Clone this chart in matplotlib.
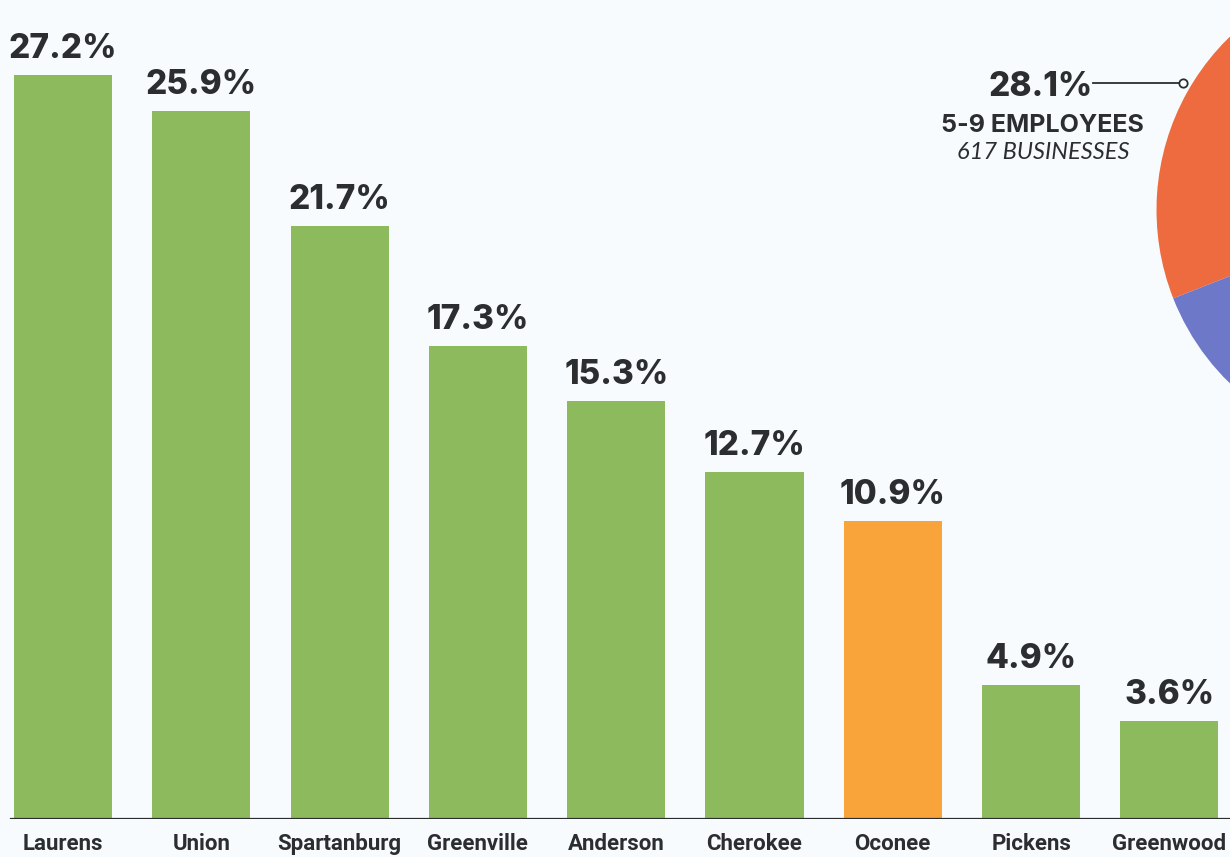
import numpy as np
import matplotlib.pyplot as plt

counties = ['Laurens', 'Union', 'Spartanburg', 'Greenville', 'Anderson',
            'Cherokee', 'Oconee', 'Pickens', 'Greenwood']
pct = [27.2, 25.9, 21.7, 17.3, 15.3, 12.7, 10.9, 4.9, 3.6]
highlight = 'Oconee'

pie_share = [28.1, 71.9]
pie_label = ['28.1%', '5-9 EMPLOYEES', '617 BUSINESSES']

green = '#8dba5c'
orange = '#f9a43b'
dark = '#2b2d2f'

W, H = 1230, 857
fig = plt.figure(figsize=(W / 100, H / 100), dpi=100)
fig.patch.set_facecolor('#f8fbfd')

# bar axes: baseline at 819px from the top
ax = fig.add_axes([0, 38 / H, 1, 1 - 38 / H])
ax.set_facecolor('none')
x = np.arange(len(counties))
colors = [orange if c == highlight else green for c in counties]
bars = ax.bar(x, pct, width=0.71, color=colors, zorder=2)

ax.set_xlim(-63 / 138.3, (W - 63) / 138.3)
ax.set_ylim(0, 819 / 27.35)
ax.axhline(0, xmin=0.009, xmax=1, color=dark, lw=1.6, zorder=3)

for b, v in zip(bars, pct):
    ax.annotate(f'{v}%', (b.get_x() + b.get_width() / 2, v),
                xytext=(0, 7), textcoords='offset points',
                ha='center', va='bottom', fontsize=24, fontweight='heavy',
                family=['Inter', 'DejaVu Sans'], color=dark)

ax.set_xticks(x)
ax.set_xticklabels(counties, fontsize=16, fontweight='semibold',
                   family=['Roboto', 'DejaVu Sans'], color=dark)
ax.tick_params(axis='x', length=0, pad=10)
ax.set_yticks([])
for s in ax.spines.values():
    s.set_visible(False)

# partial pie on the right edge
r = 241.5
cx, cy = 1398, H - 210
pax = fig.add_axes([(cx - r) / W, (cy - r) / H, 2 * r / W, 2 * r / H])
pax.pie(pie_share, colors=['#ee6b3f', '#6e78c8'], startangle=100.3,
        radius=1, wedgeprops=dict(linewidth=0))
pax.set_xlim(-1, 1)
pax.set_ylim(-1, 1)
pax.axis('off')

# callout for the pie slice
fig.text(1041 / W, 1 - 87 / H, pie_label[0], ha='center', va='center',
         fontsize=24, fontweight='heavy', family=['Inter', 'DejaVu Sans'],
         color=dark)
fig.add_artist(plt.Line2D([1093 / W, 1180 / W], [1 - 83 / H, 1 - 83 / H],
                          color=dark, lw=1.3))
fig.add_artist(plt.Line2D([1183 / W], [1 - 83 / H], marker='o', ms=6,
                          mfc='white', mec=dark, mew=1.3))
fig.text(1042 / W, 1 - 125 / H, pie_label[1], ha='center', va='center',
         fontsize=18, fontweight='bold', family=['Inter', 'DejaVu Sans'],
         color=dark)
fig.text(1043 / W, 1 - 153 / H, pie_label[2], ha='center', va='center',
         fontsize=17, style='italic', family=['Lato', 'DejaVu Sans'],
         color=dark)

fig.savefig('out.png', dpi=100, facecolor=fig.get_facecolor())
